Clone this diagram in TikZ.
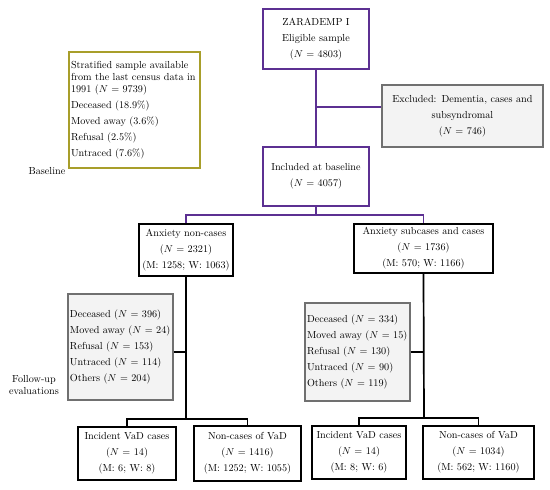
\documentclass[tikz,border=0pt]{standalone}
\usepackage{tikz}
\usetikzlibrary{positioning,calc}
\definecolor{zpurple}{RGB}{92,48,146}
\definecolor{zolive}{RGB}{168,158,42}
\definecolor{zgray}{RGB}{112,112,112}
\definecolor{zfill}{RGB}{243,243,243}

\begin{document}
\begin{tikzpicture}[x=1pt,y=-1pt,
    every node/.style={font=\fontsize{10.2}{16}\selectfont, inner sep=0pt},
    purplebox/.style={draw=zpurple, line width=1.5pt, fill=white, align=center},
    blackbox/.style={draw=black, line width=1.9pt, fill=white, align=center},
    graybox/.style={draw=zgray, line width=1.4pt, fill=zfill, align=left},
    olivebox/.style={draw=zolive, line width=1.7pt, fill=white, align=left},
    purpleline/.style={draw=zpurple, line width=1.5pt},
    blackline/.style={draw=black, line width=1.7pt}]
    \useasboundingbox (0,0) rectangle (550,490);

    % Nodes
    \node[purplebox, minimum width=106, minimum height=60, text width=100] (zar) at (316,39)
        {ZARADEMP I\\ Eligible sample\\ (\(N\) = 4803)};
    \node[graybox, align=center, minimum width=161, minimum height=62, text width=157] (excl) at (462.5,116)
        {Excluded: Dementia, cases and\\ subsyndromal\\ (\(N\) = 746)};
    \node[purplebox, minimum width=106, minimum height=59, text width=100] (incl) at (316,176.5)
        {Included at baseline\\ (\(N\) = 4057)};
    \node[olivebox, minimum width=131, minimum height=116, text width=127] (strat) at (134.5,110)
        {Stratified sample available\\[-4pt] from the last census data in\\[-4pt] 1991 (\(N\) = 9739)\\
         Deceased (18.9\%)\\ Moved away (3.6\%)\\ Refusal (2.5\%)\\ Untraced (7.6\%)};
    \node (base) at (47,171) {Baseline};

    \node[blackbox, minimum width=94, minimum height=52, text width=92] (nonc) at (186,250)
        {Anxiety non-cases\\ (\(N\) = 2321)\\ (M: 1258; W: 1063)};
    \node[blackbox, minimum width=139, minimum height=49, text width=135] (subc) at (423.5,248.5)
        {Anxiety subcases and cases\\ (\(N\) = 1736)\\ (M: 570; W: 1166)};

    \node[graybox, minimum width=105, minimum height=106, text width=101] (lostA) at (120.5,347)
        {Deceased (\(N\) = 396)\\ Moved away (\(N\) = 24)\\ Refusal (\(N\) = 153)\\
         Untraced (\(N\) = 114)\\ Others (\(N\) = 204)};
    \node[graybox, minimum width=105, minimum height=98, text width=101] (lostB) at (357.5,352)
        {Deceased (\(N\) = 334)\\ Moved away (\(N\) = 15)\\ Refusal (\(N\) = 130)\\
         Untraced (\(N\) = 90)\\ Others (\(N\) = 119)};
    \node[align=center, font=\fontsize{10.2}{12.5}\selectfont] (fup) at (34,385) {Follow-up\\ evaluations};

    \node[blackbox, minimum width=98, minimum height=53, text width=94] (incA) at (127,453.5)
        {Incident VaD cases\\ (\(N\) = 14)\\ (M: 6; W: 8)};
    \node[blackbox, minimum width=107, minimum height=55, text width=104] (noncA) at (247.5,453.5)
        {Non-cases of VaD\\ (\(N\) = 1416)\\ (M: 1252; W: 1055)};
    \node[blackbox, minimum width=94, minimum height=53, text width=92] (incB) at (359,452.5)
        {Incident VaD cases\\ (\(N\) = 14)\\ (M: 8; W: 6)};
    \node[blackbox, minimum width=111, minimum height=53, text width=107] (noncB) at (478.5,452.5)
        {Non-cases of VaD\\ (\(N\) = 1034)\\ (M: 562; W: 1160)};

    % Junctions
    \coordinate (j1) at (316,107);
    \coordinate (j2) at (316,215);
    \coordinate (j3) at (186,419);
    \coordinate (j4) at (424,418);
    \coordinate (k1) at (186,352);
    \coordinate (k2) at (424,352);

    % Lines
    \draw[purpleline] (zar.south) -- (incl.north);
    \draw[purpleline] (j1) -- (j1 -| excl.west);
    \draw[purpleline] (incl.south) -- (j2);
    \draw[purpleline] (nonc.north) |- (j2) -| (subc.north);
    \draw[blackline] (nonc.south) -- (j3);
    \draw[blackline] (incA.north) |- (j3) -| (noncA.north);
    \draw[blackline] (k1 -| lostA.east) -- (k1);
    \draw[blackline] (subc.south) -- (j4);
    \draw[blackline] (incB.north) |- (j4) -| (noncB.north);
    \draw[blackline] (lostB.east) -- (k2);
\end{tikzpicture}
\end{document}
